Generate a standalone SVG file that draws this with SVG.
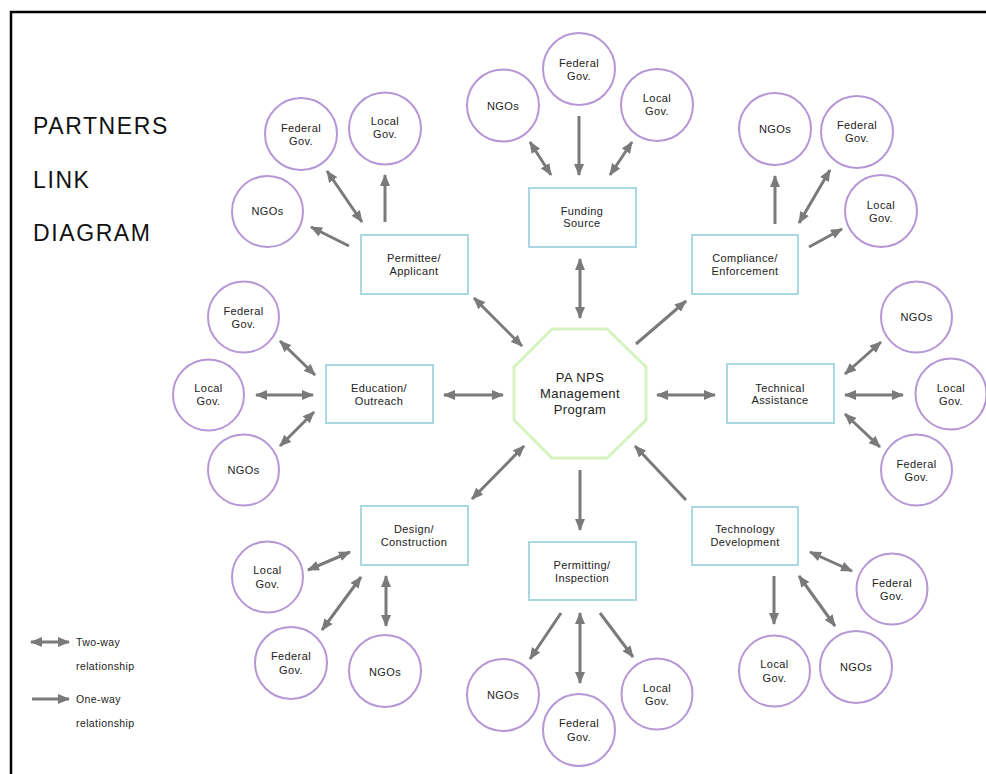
<svg xmlns="http://www.w3.org/2000/svg" width="986" height="774" viewBox="0 0 986 774">
<defs>
<marker id="ah" viewBox="0 0 12 10" markerUnits="userSpaceOnUse" markerWidth="12" markerHeight="10" refX="11" refY="5" orient="auto-start-reverse">
<path d="M0,0 L12,5 L0,10 z" fill="#7a7a7a"/>
</marker>
</defs>
<style>
.c{fill:#fff;stroke:#b597d6;stroke-width:2}
.b{fill:#fff;stroke:#a9d7e2;stroke-width:2}
.t{font-family:"Liberation Sans",Arial,sans-serif;font-size:11px;fill:#222;text-anchor:middle;letter-spacing:0.4px}
.a1{stroke:#7a7a7a;stroke-width:3;fill:none;marker-end:url(#ah)}
.a2{stroke:#7a7a7a;stroke-width:3;fill:none;marker-end:url(#ah);marker-start:url(#ah)}
.title{font-family:"Liberation Sans",Arial,sans-serif;font-size:23px;fill:#111;letter-spacing:1.6px}
.lg{font-family:"Liberation Sans",Arial,sans-serif;font-size:10.5px;fill:#222;letter-spacing:0.4px}
</style>
<rect width="986" height="774" fill="#fff"/>
<path d="M11,774 L11,12 L986,12" fill="none" stroke="#000" stroke-width="2.5"/>

<g id="title">
<text class="title" x="33" y="134">PARTNERS</text>
<text class="title" x="33" y="188">LINK</text>
<text class="title" x="33" y="241">DIAGRAM</text>
</g>

<g id="connectors">
<line class="a2" x1="580" y1="259" x2="580" y2="318"/>
<line class="a2" x1="474" y1="298" x2="522" y2="346"/>
<line class="a1" x1="636" y1="344" x2="686" y2="301"/>
<line class="a2" x1="444" y1="395" x2="503" y2="395"/>
<line class="a2" x1="657" y1="395" x2="715" y2="395"/>
<line class="a2" x1="472" y1="499" x2="524" y2="446"/>
<line class="a1" x1="580" y1="470" x2="580" y2="530"/>
<line class="a1" x1="686" y1="500" x2="635" y2="446"/>
<line class="a2" x1="362" y1="222" x2="327" y2="171"/>
<line class="a1" x1="385" y1="222" x2="385" y2="175"/>
<line class="a1" x1="349" y1="246" x2="311" y2="227"/>
<line class="a2" x1="530" y1="142" x2="551" y2="175"/>
<line class="a1" x1="579" y1="116" x2="579" y2="175"/>
<line class="a2" x1="632" y1="142" x2="610" y2="175"/>
<line class="a1" x1="775" y1="224" x2="775" y2="176"/>
<line class="a2" x1="830" y1="170" x2="799" y2="223"/>
<line class="a1" x1="809" y1="247" x2="842" y2="229"/>
<line class="a2" x1="280" y1="341" x2="315" y2="375"/>
<line class="a2" x1="256" y1="395" x2="313" y2="395"/>
<line class="a2" x1="280" y1="446" x2="314" y2="412"/>
<line class="a2" x1="881" y1="342" x2="845" y2="374"/>
<line class="a2" x1="845" y1="395" x2="903" y2="395"/>
<line class="a2" x1="845" y1="414" x2="880" y2="447"/>
<line class="a2" x1="308" y1="570" x2="350" y2="552"/>
<line class="a2" x1="322" y1="630" x2="361" y2="577"/>
<line class="a2" x1="386" y1="576" x2="386" y2="626"/>
<line class="a1" x1="561" y1="613" x2="530" y2="659"/>
<line class="a2" x1="580" y1="613" x2="580" y2="683"/>
<line class="a1" x1="600" y1="613" x2="633" y2="657"/>
<line class="a2" x1="810" y1="552" x2="852" y2="571"/>
<line class="a1" x1="774" y1="576" x2="774" y2="624"/>
<line class="a2" x1="799" y1="576" x2="835" y2="626"/>
</g>

<g id="center">
<polygon points="552,329 607,329 646,367 646,420 607,458 552,458 514,420 514,367" fill="#fff" stroke="#d5f3c1" stroke-width="3"/>
<text class="t" x="580" y="382" style="font-size:13px">PA NPS</text>
<text class="t" x="580" y="398" style="font-size:13px">Management</text>
<text class="t" x="580" y="414" style="font-size:13px">Program</text>
</g>

<g id="permittee"><rect class="b" x="361" y="235" width="107" height="59"/><text class="t" x="414" y="262">Permittee/</text><text class="t" x="414" y="275">Applicant</text></g>
<g id="funding"><rect class="b" x="529" y="188" width="107" height="59"/><text class="t" x="582" y="215">Funding</text><text class="t" x="582" y="227">Source</text></g>
<g id="compliance"><rect class="b" x="692" y="235" width="106" height="59"/><text class="t" x="745" y="262">Compliance/</text><text class="t" x="745" y="275">Enforcement</text></g>
<g id="education"><rect class="b" x="326" y="365" width="107" height="58"/><text class="t" x="379" y="392">Education/</text><text class="t" x="379" y="405">Outreach</text></g>
<g id="technical"><rect class="b" x="727" y="364" width="107" height="59"/><text class="t" x="780" y="392">Technical</text><text class="t" x="780" y="404">Assistance</text></g>
<g id="design"><rect class="b" x="361" y="506" width="107" height="59"/><text class="t" x="414" y="533">Design/</text><text class="t" x="414" y="546">Construction</text></g>
<g id="permitting"><rect class="b" x="529" y="542" width="107" height="58"/><text class="t" x="582" y="569">Permitting/</text><text class="t" x="582" y="582">Inspection</text></g>
<g id="technology"><rect class="b" x="692" y="507" width="106" height="58"/><text class="t" x="745" y="533">Technology</text><text class="t" x="745" y="546">Development</text></g>

<g id="p-fed"><circle class="c" cx="301" cy="134" r="36"/><text class="t" x="301" y="132">Federal</text><text class="t" x="301" y="145">Gov.</text></g>
<g id="p-loc"><circle class="c" cx="385" cy="128.5" r="36"/><text class="t" x="385" y="125">Local</text><text class="t" x="385" y="138">Gov.</text></g>
<g id="p-ngo"><circle class="c" cx="267.5" cy="211.5" r="35.5"/><text class="t" x="267.5" y="215">NGOs</text></g>

<g id="f-ngo"><circle class="c" cx="503" cy="105.5" r="36"/><text class="t" x="503" y="110">NGOs</text></g>
<g id="f-fed"><circle class="c" cx="579" cy="69" r="36"/><text class="t" x="579" y="67">Federal</text><text class="t" x="579" y="80">Gov.</text></g>
<g id="f-loc"><circle class="c" cx="657" cy="105" r="36"/><text class="t" x="657" y="102">Local</text><text class="t" x="657" y="115">Gov.</text></g>

<g id="c-ngo"><circle class="c" cx="775" cy="129" r="36"/><text class="t" x="775" y="133">NGOs</text></g>
<g id="c-fed"><circle class="c" cx="857" cy="132" r="36"/><text class="t" x="857" y="129">Federal</text><text class="t" x="857" y="142">Gov.</text></g>
<g id="c-loc"><circle class="c" cx="881" cy="211" r="36"/><text class="t" x="881" y="209">Local</text><text class="t" x="881" y="222">Gov.</text></g>

<g id="e-fed"><circle class="c" cx="243.5" cy="317" r="35.5"/><text class="t" x="243.5" y="315">Federal</text><text class="t" x="243.5" y="328">Gov.</text></g>
<g id="e-loc"><circle class="c" cx="208.5" cy="395" r="35.5"/><text class="t" x="208.5" y="392">Local</text><text class="t" x="208.5" y="405">Gov.</text></g>
<g id="e-ngo"><circle class="c" cx="243.5" cy="470" r="35.5"/><text class="t" x="243.5" y="474">NGOs</text></g>

<g id="t-ngo"><circle class="c" cx="916.5" cy="317" r="35.5"/><text class="t" x="916.5" y="321">NGOs</text></g>
<g id="t-loc"><circle class="c" cx="951" cy="394" r="35.5"/><text class="t" x="951" y="392">Local</text><text class="t" x="951" y="405">Gov.</text></g>
<g id="t-fed"><circle class="c" cx="916.5" cy="470" r="35.5"/><text class="t" x="916.5" y="468">Federal</text><text class="t" x="916.5" y="481">Gov.</text></g>

<g id="d-loc"><circle class="c" cx="267.5" cy="577" r="35.5"/><text class="t" x="267.5" y="574">Local</text><text class="t" x="267.5" y="588">Gov.</text></g>
<g id="d-fed"><circle class="c" cx="291" cy="663" r="36"/><text class="t" x="291" y="660">Federal</text><text class="t" x="291" y="674">Gov.</text></g>
<g id="d-ngo"><circle class="c" cx="385" cy="671" r="36"/><text class="t" x="385" y="676">NGOs</text></g>

<g id="i-ngo"><circle class="c" cx="503" cy="695" r="36"/><text class="t" x="503" y="699">NGOs</text></g>
<g id="i-fed"><circle class="c" cx="579" cy="730" r="36"/><text class="t" x="579" y="727">Federal</text><text class="t" x="579" y="741">Gov.</text></g>
<g id="i-loc"><circle class="c" cx="657" cy="694" r="35.5"/><text class="t" x="657" y="692">Local</text><text class="t" x="657" y="705">Gov.</text></g>

<g id="g-fed"><circle class="c" cx="892" cy="589" r="35.5"/><text class="t" x="892" y="587">Federal</text><text class="t" x="892" y="600">Gov.</text></g>
<g id="g-loc"><circle class="c" cx="774.5" cy="671" r="35.5"/><text class="t" x="774.5" y="668">Local</text><text class="t" x="774.5" y="682">Gov.</text></g>
<g id="g-ngo"><circle class="c" cx="856" cy="667" r="36"/><text class="t" x="856" y="671">NGOs</text></g>

<g id="legend">
<line class="a2" x1="31" y1="642" x2="69" y2="642"/>
<text class="lg" x="76" y="646">Two-way</text>
<text class="lg" x="76" y="670">relationship</text>
<line class="a1" x1="32" y1="699" x2="69" y2="699"/>
<text class="lg" x="76" y="703">One-way</text>
<text class="lg" x="76" y="727">relationship</text>
</g>
</svg>
